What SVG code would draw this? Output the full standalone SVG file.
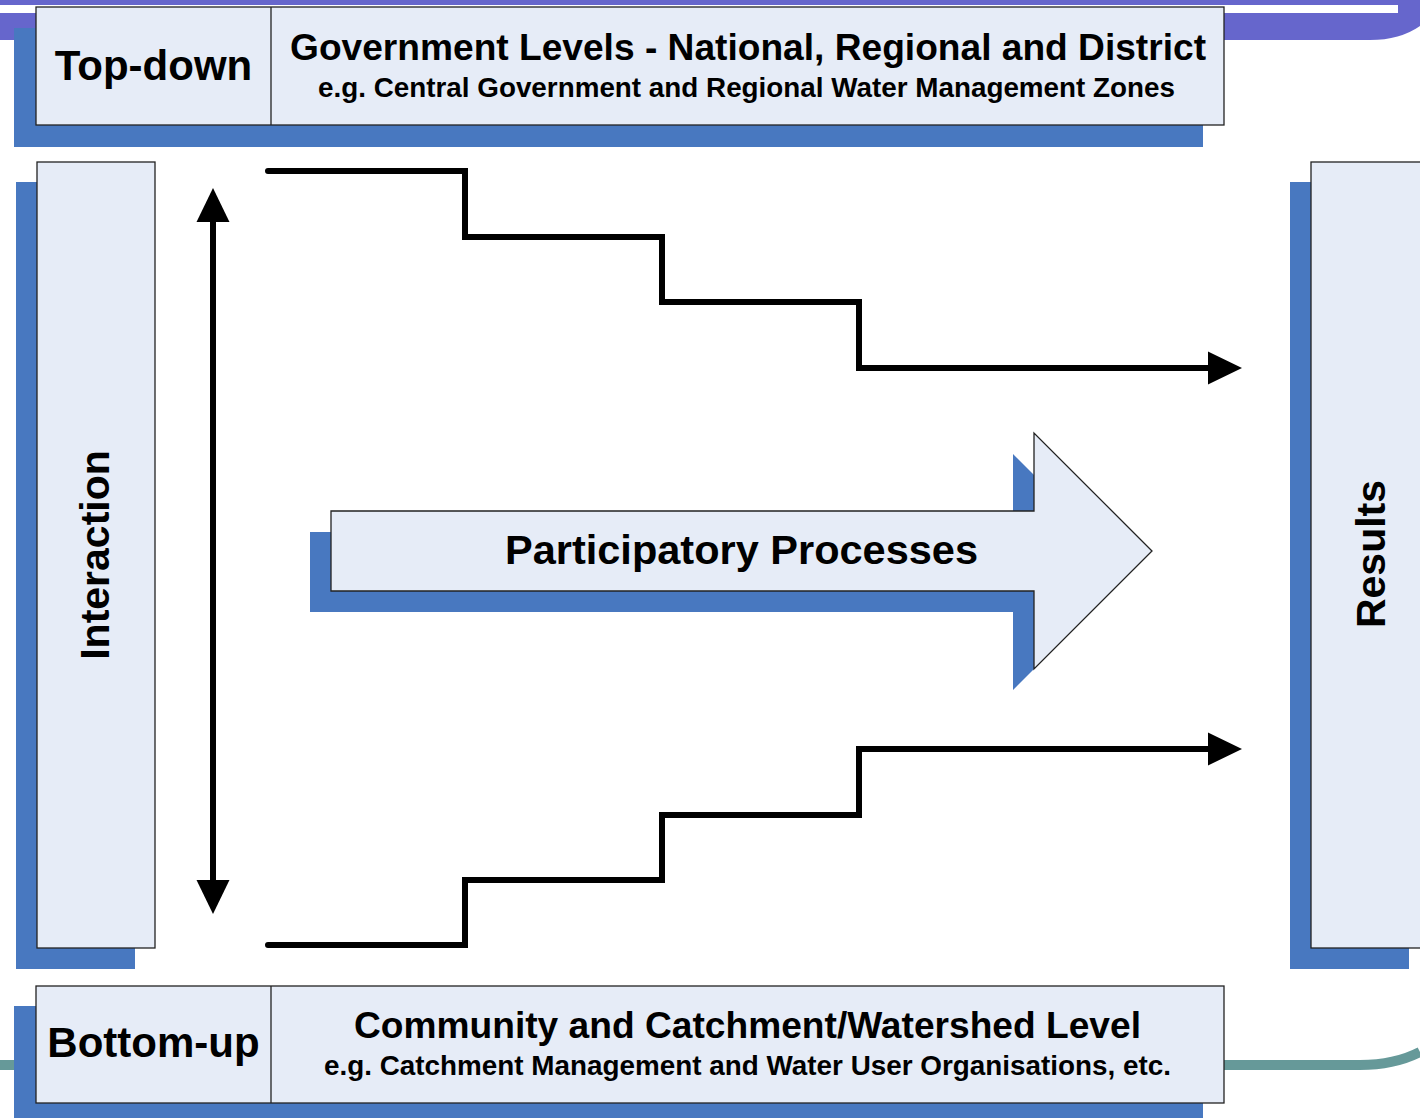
<svg xmlns="http://www.w3.org/2000/svg" width="1420" height="1118" viewBox="0 0 1420 1118">
<style>
.shadow{fill:#4878C0}
.box{fill:#E6ECF7;stroke:#222;stroke-width:1.3}
.t{font-family:"Liberation Sans",Arial,sans-serif;font-weight:bold;fill:#000}
.conn{fill:none;stroke:#000;stroke-width:6}
</style>
<defs>
<marker id="ah" markerUnits="userSpaceOnUse" markerWidth="34" markerHeight="34" viewBox="0 0 33 32" refX="0" refY="16" orient="auto-start-reverse">
<path d="M0,0 L33,16 L0,32 Z" fill="#000"/>
</marker>
</defs>
<g id="background">
<path d="M0,0 H1420 V26 Q1400,40 1370,40 H0 Z" fill="#6666CC"/>
<rect x="0" y="5" width="1398" height="8" fill="#fff"/>
<path d="M0,1065 H1360 Q1395,1065 1420,1052" fill="none" stroke="#669999" stroke-width="10"/>
</g>
<g id="top-box">
<rect class="shadow" x="14" y="28" width="1189" height="119"/>
<rect class="box" x="36" y="7" width="1188" height="118"/>
<line x1="271" y1="7" x2="271" y2="125" stroke="#222" stroke-width="1.3"/>
<text class="t" x="153.5" y="80" font-size="42" text-anchor="middle">Top-down</text>
<text class="t" x="748" y="60" font-size="36" text-anchor="middle" textLength="916" lengthAdjust="spacingAndGlyphs">Government Levels - National, Regional and District</text>
<text class="t" x="746.5" y="97" font-size="27" text-anchor="middle" textLength="857" lengthAdjust="spacingAndGlyphs">e.g. Central Government and Regional Water Management Zones</text>
</g>
<g id="interaction-box">
<rect class="shadow" x="16" y="182" width="119" height="787"/>
<rect class="box" x="37" y="162" width="118" height="786"/>
<text class="t" transform="translate(109,555) rotate(-90)" font-size="41" text-anchor="middle">Interaction</text>
</g>
<g id="results-box">
<rect class="shadow" x="1290" y="182" width="119" height="787"/>
<rect class="box" x="1311" y="162" width="119" height="786"/>
<text class="t" transform="translate(1385,554) rotate(-90)" font-size="41" text-anchor="middle">Results</text>
</g>
<g id="bottom-box">
<rect class="shadow" x="14" y="1006" width="1189" height="130"/>
<rect class="box" x="36" y="986" width="1188" height="117"/>
<line x1="271" y1="986" x2="271" y2="1103" stroke="#222" stroke-width="1.3"/>
<text class="t" x="153.5" y="1057" font-size="42" text-anchor="middle">Bottom-up</text>
<text class="t" x="747.5" y="1038" font-size="36" text-anchor="middle" textLength="787" lengthAdjust="spacingAndGlyphs">Community and Catchment/Watershed Level</text>
<text class="t" x="747.5" y="1075" font-size="27" text-anchor="middle" textLength="847" lengthAdjust="spacingAndGlyphs">e.g. Catchment Management and Water User Organisations, etc.</text>
</g>
<g id="participatory-arrow">
<path class="shadow" d="M310,532 H1013 V454 L1131,572 L1013,690 V612 H310 Z"/>
<path class="box" d="M331,511 H1034 V433 L1152,551 L1034,669 V591 H331 Z"/>
<text class="t" x="741.5" y="564" font-size="41" text-anchor="middle" textLength="473" lengthAdjust="spacingAndGlyphs">Participatory Processes</text>
</g>
<g id="connectors">
<path class="conn" stroke-linecap="round" d="M268,171 H465 V237 H662 V302 H859 V368 H1208" marker-end="url(#ah)"/>
<path class="conn" stroke-linecap="round" d="M268,945 H465 V880 H662 V815 H859 V749 H1208" marker-end="url(#ah)"/>
<path class="conn" d="M213,222 V880" marker-start="url(#ah)" marker-end="url(#ah)"/>
</g>
</svg>
